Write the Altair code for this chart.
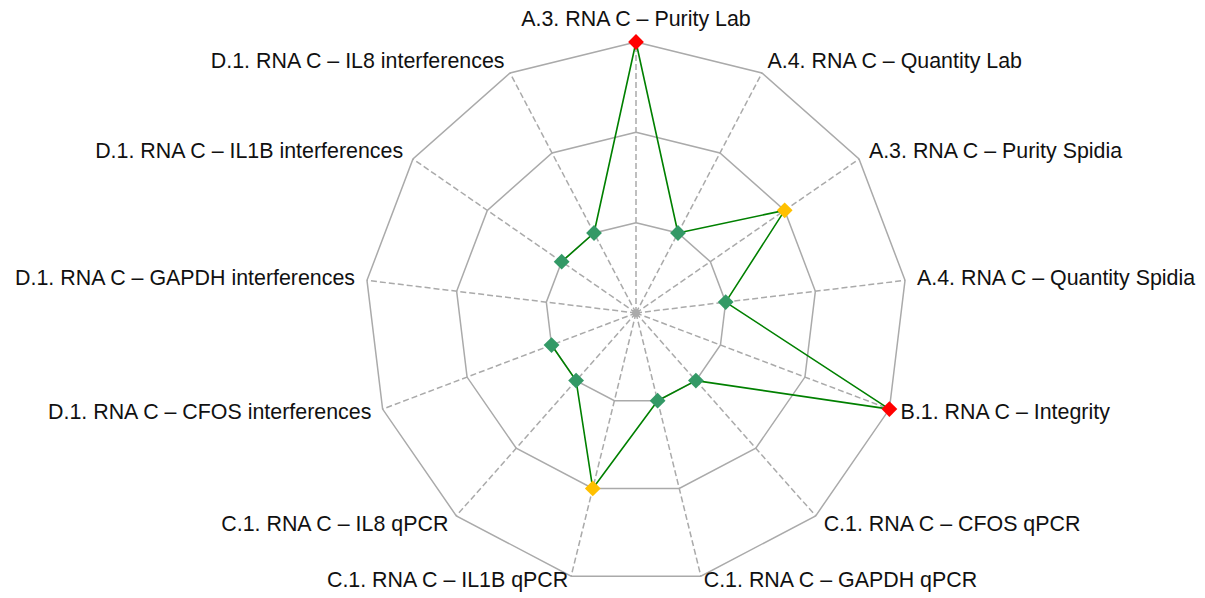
import altair as alt
import pandas as pd

categories = [
    "A.3. RNA C – Purity Lab",
    "A.4. RNA C – Quantity Lab",
    "A.3. RNA C – Purity Spidia",
    "A.4. RNA C – Quantity Spidia",
    "B.1. RNA C – Integrity",
    "C.1. RNA C – CFOS qPCR",
    "C.1. RNA C – GAPDH qPCR",
    "C.1. RNA C – IL1B qPCR",
    "C.1. RNA C – IL8 qPCR",
    "D.1. RNA C – CFOS interferences",
    "D.1. RNA C – GAPDH interferences",
    "D.1. RNA C – IL1B interferences",
    "D.1. RNA C – IL8 interferences",
]
values = [3, 1, 2, 1, 3, 1, 1, 2, 1, 1, None, 1, 1]
levels = [1, 2, 3]
max_value = 3
level_colors = ["#339966", "#FFC000", "#FF0000"]

N = len(categories)
TH = f"datum.k * 2 * PI / {N}"

W, H = 1189, 590
R = 271.0
CX, CY = 628.0, 305.0
xdom = [-CX / R, (W - CX) / R]
ydom = [-(H - CY) / R, CY / R]

xs = alt.Scale(domain=xdom, nice=False, zero=False)
ys = alt.Scale(domain=ydom, nice=False, zero=False)

df = pd.DataFrame({"k": list(range(N)), "category": categories, "value": values})
df["value_next"] = [values[(i + 1) % N] for i in range(N)]

ring_rows = [{"level": lv, "k": k} for lv in levels for k in range(N + 1)]
rings_df = pd.DataFrame(ring_rows)

base = alt.Chart(df)

spokes = base.transform_calculate(
    x0="0", y0="0",
    x1=f"sin({TH})", y1=f"cos({TH})",
).mark_rule(color="#aaaaaa", strokeWidth=1.5, strokeDash=[6, 3]).encode(
    x=alt.X("x0:Q", scale=xs, axis=None),
    y=alt.Y("y0:Q", scale=ys, axis=None),
    x2="x1:Q", y2="y1:Q",
)

rings = alt.Chart(rings_df).transform_calculate(
    x=f"datum.level / {max_value} * sin({TH})",
    y=f"datum.level / {max_value} * cos({TH})",
).mark_line(color="#aaaaaa", strokeWidth=1.5).encode(
    x=alt.X("x:Q", scale=xs, axis=None),
    y=alt.Y("y:Q", scale=ys, axis=None),
    detail="level:N",
    order="k:Q",
)

center = alt.Chart(pd.DataFrame({"c": [0]})).transform_calculate(
    x="0", y="0"
).mark_point(filled=True, color="#aaaaaa", size=60, opacity=1, shape="circle").encode(
    x=alt.X("x:Q", scale=xs, axis=None),
    y=alt.Y("y:Q", scale=ys, axis=None),
)

segs = base.transform_filter(
    "isValid(datum.value) && isValid(datum.value_next)"
).transform_calculate(
    xa=f"datum.value / {max_value} * sin({TH})",
    ya=f"datum.value / {max_value} * cos({TH})",
    xb=f"datum.value_next / {max_value} * sin((datum.k + 1) * 2 * PI / {N})",
    yb=f"datum.value_next / {max_value} * cos((datum.k + 1) * 2 * PI / {N})",
).mark_rule(color="#008000", strokeWidth=1.6, strokeCap="round").encode(
    x=alt.X("xa:Q", scale=xs, axis=None),
    y=alt.Y("ya:Q", scale=ys, axis=None),
    x2="xb:Q", y2="yb:Q",
)

points = base.transform_filter("isValid(datum.value)").transform_calculate(
    x=f"datum.value / {max_value} * sin({TH})",
    y=f"datum.value / {max_value} * cos({TH})",
).mark_point(filled=True, shape="diamond", size=250, opacity=1).encode(
    x=alt.X("x:Q", scale=xs, axis=None),
    y=alt.Y("y:Q", scale=ys, axis=None),
    color=alt.Color("value:O", scale=alt.Scale(domain=levels, range=level_colors), legend=None),
)

LR = 1 + 12 / R
lab_base = base.transform_calculate(
    x=f"{LR} * sin({TH})",
    c=f"cos({TH})",
    s=f"sin({TH})",
).transform_calculate(
    y=f"{LR} * datum.c + (datum.c < -0.9 ? {7 / R} : 0)",
)
txt = dict(font="Liberation Sans", fontSize=21.4, color="#111111", baseline="middle")
lab_right = lab_base.transform_filter("datum.s > 0.01").mark_text(align="left", **txt).encode(
    x=alt.X("x:Q", scale=xs, axis=None), y=alt.Y("y:Q", scale=ys, axis=None), text="category:N")
lab_left = lab_base.transform_filter("datum.s < -0.01").mark_text(align="right", **txt).encode(
    x=alt.X("x:Q", scale=xs, axis=None), y=alt.Y("y:Q", scale=ys, axis=None), text="category:N")
lab_top = lab_base.transform_filter("abs(datum.s) <= 0.01").mark_text(align="center", dy=-10, **txt).encode(
    x=alt.X("x:Q", scale=xs, axis=None), y=alt.Y("y:Q", scale=ys, axis=None), text="category:N")

chart = alt.layer(
    spokes, rings, center, segs, points, lab_right, lab_left, lab_top
).properties(
    width=W, height=H, autosize=alt.AutoSizeParams(type="none"), padding=0
).configure_view(stroke=None)

chart.save("out.html", embed_options={"renderer": "svg", "actions": False})
